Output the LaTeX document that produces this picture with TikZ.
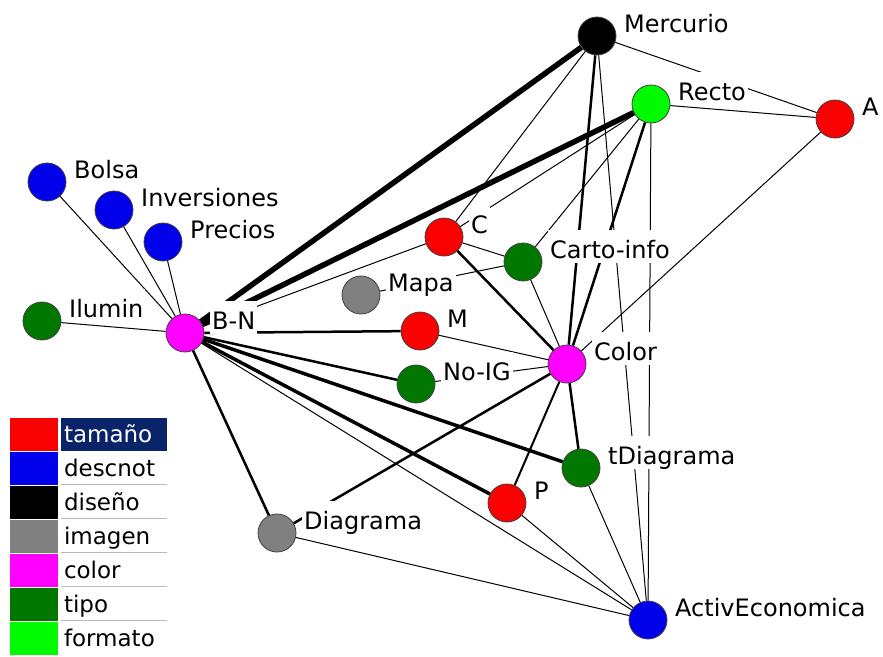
\documentclass[tikz,border=0pt]{standalone}
\usepackage{fontspec}
\setmainfont{DejaVu Sans}
\usepackage{tikz}
\usetikzlibrary{arrows,shapes,positioning}
\usepackage{xcolor}
\definecolor{sgred}{RGB}{250,0,0}
\definecolor{sgblue}{RGB}{0,0,235}
\definecolor{sggray}{RGB}{128,128,128}
\definecolor{sgmagenta}{RGB}{255,0,255}
\definecolor{sgdkgreen}{RGB}{0,120,0}
\definecolor{sgltgreen}{RGB}{0,250,0}
\definecolor{sgnavy}{RGB}{10,36,106}
\tikzstyle{actor} = [circle, minimum size=38pt, inner sep=0pt, draw=black!75, line width=0.8pt]
\tikzstyle{tag} = [anchor=base west, fill=white, inner sep=2pt, text height=26pt, text depth=3pt, font=\fontsize{24}{28}\selectfont]
\tikzstyle{tie} = [line width=1pt]
\tikzstyle{midtie} = [line width=2.5pt]
\tikzstyle{boldtie} = [line width=3.5pt]
\tikzstyle{heavytie} = [line width=5.5pt]
\tikzstyle{swatch} = [rectangle, minimum width=48pt, minimum height=33pt, inner sep=0pt]
\tikzstyle{key} = [rectangle, text width=100pt, align=left, inner sep=3pt, minimum height=33pt, text height=19pt, text depth=3pt, font=\fontsize{23}{26}\selectfont]
\tikzstyle{sepline} = [gray!55, line width=1pt]

\begin{document}
\begin{tikzpicture}[x=1pt, y=-1pt]
\useasboundingbox (0,0) rectangle (883,656);

% Actors
\node (merc) [actor, fill=black] at (597,36) {};
\node (recto) [actor, fill=sgltgreen] at (651,104) {};
\node (a) [actor, fill=sgred] at (835,119) {};
\node (bolsa) [actor, fill=sgblue] at (47,182) {};
\node (inv) [actor, fill=sgblue] at (114,210) {};
\node (prec) [actor, fill=sgblue] at (163,242) {};
\node (c) [actor, fill=sgred] at (444,237) {};
\node (carto) [actor, fill=sgdkgreen] at (523,262) {};
\node (mapa) [actor, fill=sggray] at (361,295) {};
\node (ilum) [actor, fill=sgdkgreen] at (42,321) {};
\node (bn) [actor, fill=sgmagenta] at (185,333) {};
\node (m) [actor, fill=sgred] at (420,331) {};
\node (noig) [actor, fill=sgdkgreen] at (416,384) {};
\node (color) [actor, fill=sgmagenta] at (567,364) {};
\node (tdiag) [actor, fill=sgdkgreen] at (581,468) {};
\node (p) [actor, fill=sgred] at (507,503) {};
\node (diag) [actor, fill=sggray] at (277,533) {};
\node (ae) [actor, fill=sgblue] at (648,620) {};

% Ties of B-N
\draw[tie] (bn) -- (bolsa);
\draw[tie] (bn) -- (inv);
\draw[tie] (bn) -- (prec);
\draw[tie] (bn) -- (ilum);
\draw[tie] (bn) -- (c);
\draw[tie] (bn) -- (ae);
\draw[heavytie] (bn) -- (merc);
\draw[heavytie] (bn) -- (recto);
\draw[midtie] (bn) -- (m);
\draw[midtie] (bn) -- (noig);
\draw[midtie] (bn) -- (diag);
\draw[boldtie] (bn) -- (tdiag);
\draw[boldtie] (bn) -- (p);

% Ties of Color
\draw[midtie] (color) -- (merc);
\draw[midtie] (color) -- (recto);
\draw[midtie] (color) -- (c);
\draw[midtie] (color) -- (tdiag);
\draw[midtie] (color) -- (diag);
\draw[line width=2pt] (color) -- (p);
\draw[tie] (color) -- (a);
\draw[tie] (color) -- (carto);
\draw[tie] (color) -- (m);
\draw[tie] (color) -- (noig);

% Other ties
\draw[tie] (merc) -- (a);
\draw[tie] (merc) -- (c);
\draw[tie] (merc) -- (ae);
\draw[tie] (recto) -- (a);
\draw[tie] (recto) -- (c);
\draw[tie] (recto) -- (carto);
\draw[tie] (recto) -- (ae);
\draw[tie] (c) -- (carto);
\draw[tie] (carto) -- (mapa);
\draw[tie] (tdiag) -- (ae);
\draw[tie] (p) -- (ae);
\draw[tie] (diag) -- (ae);

% Labels
\node (lMerc) [tag] at (622,32) {Mercurio};
\node (lRecto) [tag] at (676,100) {Recto};
\node (lA) [tag] at (860,115) {A};
\node (lBolsa) [tag] at (72,178) {Bolsa};
\node (lInv) [tag] at (139,206) {Inversiones};
\node (lPrec) [tag] at (188,238) {Precios};
\node (lC) [tag] at (469,233) {C};
\node (lCarto) [tag] at (548,258) {Carto-info};
\node (lMapa) [tag] at (386,291) {Mapa};
\node (lIlum) [tag] at (67,317) {Ilumin};
\node (lBN) [tag] at (210,329) {B-N};
\node (lM) [tag] at (445,327) {M};
\node (lNoIG) [tag] at (441,380) {No-IG};
\node (lColor) [tag] at (592,360) {Color};
\node (lTDiag) [tag] at (606,464) {tDiagrama};
\node (lP) [tag] at (532,499) {P};
\node (lDiag) [tag] at (302,529) {Diagrama};
\node (lAE) [tag] at (673,616) {ActivEconomica};

% Legend
\node (swTam) [swatch, fill=sgred] at (34,434) {};
\node (swDes) [swatch, fill=sgblue] at (34,468) {};
\node (swDis) [swatch, fill=black] at (34,502) {};
\node (swIma) [swatch, fill=sggray] at (34,536) {};
\node (swCol) [swatch, fill=sgmagenta] at (34,570) {};
\node (swTip) [swatch, fill=sgdkgreen] at (34,604) {};
\node (swFor) [swatch, fill=sgltgreen] at (34,638) {};
\node (keyTam) [key, fill=sgnavy, text=white] at (114,434) {tamaño};
\node (keyDes) [key] at (114,468) {descnot};
\node (keyDis) [key] at (114,502) {diseño};
\node (keyIma) [key] at (114,536) {imagen};
\node (keyCol) [key] at (114,570) {color};
\node (keyTip) [key] at (114,604) {tipo};
\node (keyFor) [key] at (114,638) {formato};
\draw[sepline] (keyDes.south west) -- (keyDes.south east);
\draw[sepline] (keyDis.south west) -- (keyDis.south east);
\draw[sepline] (keyIma.south west) -- (keyIma.south east);
\draw[sepline] (keyCol.south west) -- (keyCol.south east);
\draw[sepline] (keyTip.south west) -- (keyTip.south east);
\end{tikzpicture}
\end{document}
